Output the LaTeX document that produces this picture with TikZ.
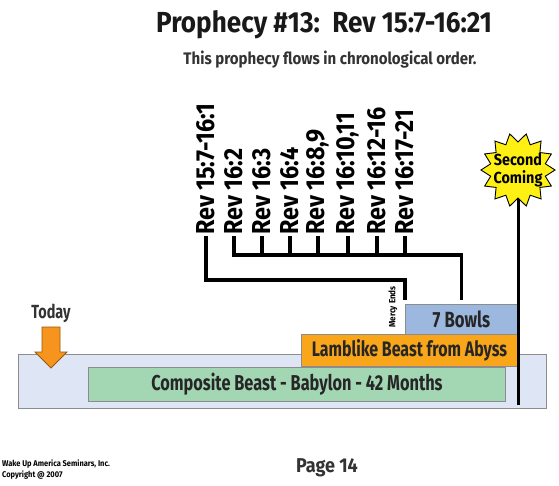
\documentclass[tikz,border=0pt]{standalone}
\usepackage{fontspec}
\setmainfont{Fira Sans}[FakeStretch=0.76]
\newfontfamily\widefont{Fira Sans}[FakeStretch=0.9]
\usepackage{tikz}
\usetikzlibrary{calc}

\definecolor{groundblue}{RGB}{222,230,245}
\definecolor{beastgreen}{RGB}{163,214,179}
\definecolor{lambgold}{RGB}{249,166,27}
\definecolor{bowlblue}{RGB}{157,184,222}
\definecolor{todayorange}{RGB}{247,148,29}
\definecolor{burstyellow}{RGB}{255,240,20}

\begin{document}
\begin{tikzpicture}[x=1pt,y=-1pt,
  wire/.style={line width=3.6pt, black},
  verse/.style={rotate=90, anchor=west, inner sep=1pt, font=\widefont\fontsize{26}{26}\selectfont\bfseries},
  bar/.style={draw=black!45, line width=0.9pt, inner sep=0pt, anchor=north west},
  bartext/.style={font=\fontsize{21.5}{21.5}\selectfont\bfseries, text=black!85}]
\useasboundingbox (0,0) rectangle (559,486);

% Text Node
\node[font=\widefont\fontsize{29}{29}\selectfont\bfseries, text=black!90] (title) at (324,25) {Prophecy \#13:\ \ Rev 15:7-16:21};
% Text Node
\node[font=\widefont\fontsize{16.7}{16.7}\selectfont\bfseries, text=black!80] (subtitle) at (330,60) {This prophecy flows in chronological order.};

%Shape: Rectangle [ground]
\node[bar, fill=groundblue, minimum width=528pt, minimum height=54pt] (ground) at (18,354) {};
%Shape: Rectangle [composite]
\node[bar, bartext, fill=beastgreen, minimum width=417pt, minimum height=34pt] (composite) at (88,367) {Composite Beast - Babylon - 42 Months};
%Shape: Rectangle [lamblike]
\node[bar, bartext, fill=lambgold, minimum width=216pt, minimum height=32pt, font=\fontsize{21}{21}\selectfont\bfseries] (lamblike) at (301,334) {Lamblike Beast from Abyss};
%Shape: Rectangle [bowls]
\node[bar, bartext, fill=bowlblue, minimum width=112pt, minimum height=30pt, font=\fontsize{22}{22}\selectfont\bfseries] (bowls) at (405,304) {7 Bowls};

%Shape: Arrow [today]
\filldraw[fill=todayorange, draw=todayorange!60!black, line width=0.8pt] (42,327) -- (60,327) -- (60,352) -- (67,352) -- (51,368) -- (35,352) -- (42,352) -- cycle;
% Text Node
\node[font=\fontsize{19}{19}\selectfont\bfseries, text=black!80] (today) at (51,313) {Today};

% verse labels
\foreach \x/\t [count=\i] in {206/{15:7-16:1}, 234/{16:2}, 262/{16:3}, 290/{16:4}, 318/{16:8,9}, 348/{16:10,11}, 377/{16:12-16}, 405/{16:17-21}}
  \node[verse] (rev\i) at (\x,236) {Rev \t};

%Straight Lines [mercy]
\coordinate (mercy) at ([yshift=4pt]bowls.north west);
\draw[wire] (rev1.west) |- ([yshift=20pt]mercy) -- (mercy);
%Straight Lines [bowl bracket]
\coordinate (bowlrow) at (0,255);
\draw[wire] (rev2.west) |- (bowls.north |- bowlrow) -- ([yshift=4pt]bowls.north);
\foreach \i in {3,...,8}
  \draw[wire] (rev\i.west) -- (rev\i.west |- bowlrow);
% Text Node
\node[rotate=90, inner sep=0pt, font=\widefont\fontsize{9}{9}\selectfont\bfseries] (mercyends) at (393,307) {Mercy Ends};

%Straight Lines [second coming]
\coordinate (burst) at (518,170);
\coordinate (finale) at (518,405);
\draw[line width=3pt] (burst) -- (finale);
%Shape: Star [burst]
\filldraw[fill=burstyellow, draw=black, line width=0.9pt] (burst) +(0:37)
  \foreach \k in {1,...,27} { -- +({\k*180/14}:{ifthenelse(isodd(\k),28,37)}) } -- cycle;
% Text Node
\node[align=center, inner sep=0pt, font=\widefont\fontsize{16}{18}\selectfont\bfseries] (second) at (burst) {Second\\Coming};

% Text Node
\node[anchor=north west, align=left, inner sep=0pt, font=\widefont\fontsize{8.3}{11}\selectfont\bfseries] (footer) at (2,460) {Wake Up America Seminars, Inc.\\Copyright @ 2007};
% Text Node
\node[font=\widefont\fontsize{20}{20}\selectfont\bfseries, text=black!80] (page) at (327,468) {Page 14};

\end{tikzpicture}
\end{document}
